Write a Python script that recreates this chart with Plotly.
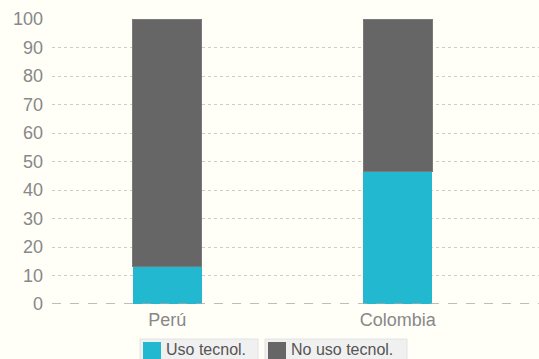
import plotly.graph_objects as go

paises = ['Perú', 'Colombia']
uso_tecnol = [13.3, 46.4]
no_uso_tecnol = [86.7, 53.6]
ticks_y = [0, 10, 20, 30, 40, 50, 60, 70, 80, 90, 100]
series = ['Uso tecnol.', 'No uso tecnol.']
colores = ['#22b8cf', '#666666']

# area de trazado en pixeles
L, R, T, B = 52, 539, 19, 304


def px(x):
    return (x - L) / (R - L)


def py(y):
    return (B - y) / (B - T)


fig = go.Figure()

fig.add_trace(go.Bar(
    x=paises, y=uso_tecnol, name=series[0],
    marker_color=colores[0], marker_line_width=0, width=0.3,
))
fig.add_trace(go.Bar(
    x=paises, y=no_uso_tecnol, name=series[1],
    marker_color=colores[1], marker_line_color='#7a7a7a', marker_line_width=1,
    width=0.3,
))

# leyenda en cajas separadas
cajas = [(140, 258), (265, 407)]
shapes = [dict(
    type='line', xref='paper', yref='y', x0=0, x1=1, y0=0, y1=0,
    line=dict(color='#a8a8a8', width=1.5, dash='dash'), layer='above',
)]
annotations = []
for (x0, x1), nombre, color in zip(cajas, series, colores):
    shapes.append(dict(
        type='rect', xref='paper', yref='paper',
        x0=px(x0), x1=px(x1), y0=py(339), y1=py(365),
        fillcolor='#f0f0f0', line=dict(color='#e2e2e2', width=1),
    ))
    shapes.append(dict(
        type='rect', xref='paper', yref='paper',
        x0=px(x0 + 3), x1=px(x0 + 21), y0=py(342), y1=py(365),
        fillcolor=color, line=dict(width=0),
    ))
    annotations.append(dict(
        text=nombre, xref='paper', yref='paper', showarrow=False,
        x=px(x0 + 25), y=py(349.5), xanchor='left', yanchor='middle',
        borderpad=0, font=dict(size=16, color='#555555'),
    ))

fig.update_layout(
    barmode='stack',
    width=539, height=359,
    margin=dict(l=L, r=539 - R, t=T, b=359 - B, autoexpand=False),
    paper_bgcolor='#fffff8',
    plot_bgcolor='#fffff8',
    font=dict(family='Liberation Sans, Arial', size=18, color='#888888'),
    showlegend=False,
    hovermode=False,
    xaxis=dict(
        range=[-0.5, 1.613], automargin=False, fixedrange=True,
        showgrid=False, showline=False, ticks='', ticklabelstandoff=3,
        tickfont=dict(size=18, color='#888888'),
    ),
    yaxis=dict(
        range=[0, 100], tickvals=ticks_y, automargin=False, fixedrange=True,
        showgrid=True, gridcolor='#cccccc', griddash='dot', gridwidth=1,
        zeroline=False, showline=False, ticks='', ticklabelstandoff=8,
        tickfont=dict(size=18, color='#888888'),
    ),
    shapes=shapes,
    annotations=annotations,
)

fig.write_html('out.html', config={'displayModeBar': False},
               post_script="document.body.style.margin='0';")
